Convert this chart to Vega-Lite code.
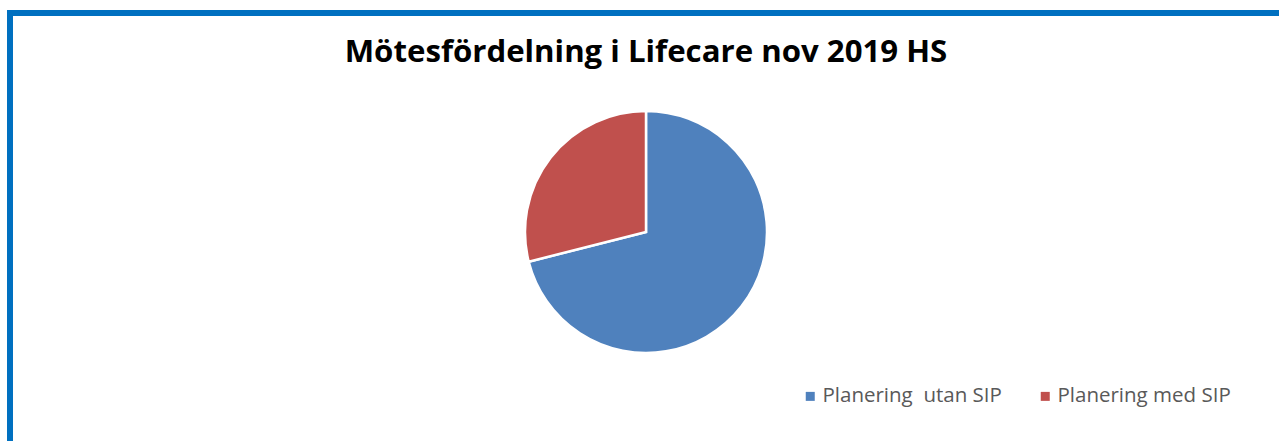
{
  "$schema": "https://vega.github.io/schema/vega-lite/v6.json",
  "autosize": {"type": "fit", "contains": "padding"},
  "width": 1279,
  "height": 441,
  "padding": {"left": 7, "top": 10, "right": -6, "bottom": -13},
  "background": "white",
  "title": {
    "text": "Mötesfördelning i Lifecare nov 2019 HS",
    "font": "Open Sans",
    "fontSize": 31.2,
    "fontWeight": "bold",
    "color": "#000000",
    "anchor": "middle",
    "frame": "group",
    "offset": -58
  },
  "layer": [
    {
      "data": {"values": [{"ram": "ram"}]},
      "mark": {"type": "rect", "fill": null, "fillOpacity": 0, "stroke": "#0070C0", "strokeWidth": 6},
      "encoding": {}
    },
    {
      "data": {
        "values": [
          {"kategori": "Planering\u00a0 utan SIP", "antal": 27, "ordning": 1},
          {"kategori": "Planering med SIP", "antal": 11, "ordning": 2}
        ]
      },
      "mark": {"type": "arc", "outerRadius": 121, "stroke": "white", "strokeWidth": 2.5},
      "encoding": {
        "theta": {"field": "antal", "type": "quantitative", "stack": true},
        "order": {"field": "ordning", "type": "quantitative"},
        "color": {
          "field": "kategori",
          "type": "nominal",
          "scale": {"domain": ["Planering\u00a0 utan SIP", "Planering med SIP"], "range": ["#4F81BD", "#C0504D"]},
          "legend": {
            "title": null,
            "orient": "none",
            "direction": "horizontal",
            "legendX": 790,
            "legendY": 373,
            "symbolType": "square",
            "symbolSize": 81,
            "symbolStrokeWidth": 0,
            "labelFont": "Open Sans",
            "labelFontSize": 20.5,
            "labelColor": "#595959",
            "labelOffset": 2,
            "columnPadding": 33,
            "labelLimit": 300
          }
        }
      }
    }
  ],
  "config": {
    "view": {"stroke": null}
  }
}
